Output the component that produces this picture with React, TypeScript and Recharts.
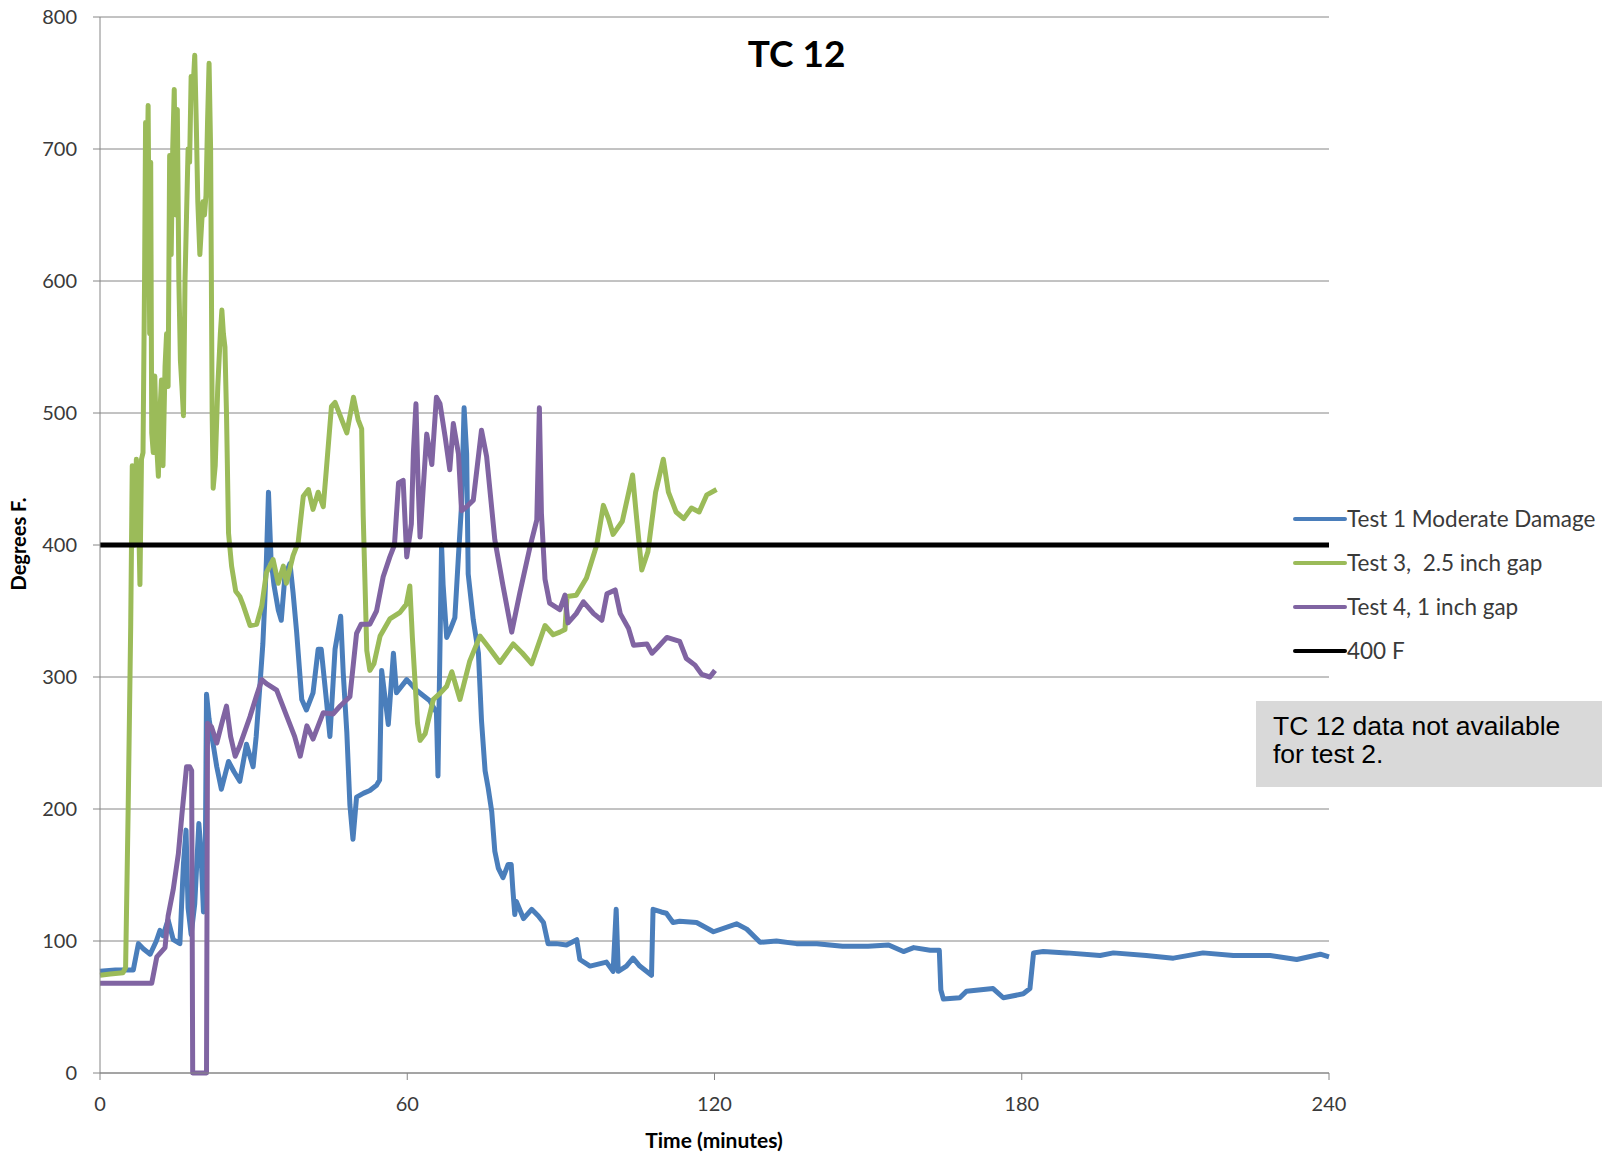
import React from 'react'
import { LineChart, Line, XAxis, YAxis, CartesianGrid } from 'recharts'

// minutes, degrees F
const test1: [number, number][] = [
  [0, 77], [3, 78], [6.5, 78], [7.5, 98], [8.5, 94], [9.8, 90], [11, 100], [11.7, 108], [12.3, 104],
  [13.3, 116], [14.3, 101], [15.6, 98], [16.3, 159], [16.8, 184], [17.2, 125], [17.8, 105], [18.5, 128],
  [19.3, 189], [19.7, 170], [20.2, 122], [20.5, 130], [20.8, 287], [21.3, 268], [22.1, 249], [22.8, 232],
  [23.7, 215], [25.1, 236], [26.2, 228], [27.3, 221], [28.6, 249], [29.9, 232], [30.5, 255], [31.2, 292],
  [31.8, 325], [32.2, 359], [32.5, 389], [32.9, 440], [33.4, 389], [34, 369], [34.8, 351], [35.4, 343],
  [36.1, 376], [37.1, 386], [37.7, 364], [38.4, 334], [39.4, 283], [40.3, 275], [41.6, 288], [42.6, 321],
  [43.2, 321], [44.2, 283], [44.9, 255], [45.9, 321], [47, 346], [47.5, 303], [48.2, 258], [48.8, 203],
  [49.4, 177], [50.1, 209], [51.5, 212], [52.7, 214], [54, 218], [54.6, 222], [55, 305], [56.3, 264],
  [57.3, 318], [57.9, 288], [59.9, 298], [61.8, 290], [64.4, 282], [65.7, 273], [66, 225], [66.7, 400],
  [67, 370], [67.7, 330], [68.3, 335], [69.3, 345], [70, 392], [70.6, 430], [71.1, 504], [71.6, 469],
  [71.9, 378], [72.9, 343], [73.9, 318], [74.5, 267], [75.2, 229], [75.8, 216], [76.5, 198], [76.8, 183],
  [77.1, 168], [77.8, 155], [78.7, 148], [79.7, 158], [80.3, 158], [80.6, 140], [81, 120], [81.3, 130],
  [82.7, 117], [84.3, 124], [85.6, 119], [86.6, 114], [87.5, 98], [89.1, 98], [91.1, 97], [93.1, 101],
  [93.7, 86], [95.7, 81], [98.9, 84], [100.2, 77], [100.5, 100], [100.8, 124], [101.2, 77], [102.8, 81],
  [104.1, 87], [105.4, 81], [107.7, 74], [108, 124], [109.6, 122], [110.6, 121], [111.9, 114], [113.2, 115],
  [116.5, 114], [119.8, 107], [124.3, 113], [126.3, 109], [128.9, 99], [132.1, 100], [136, 98], [140, 98],
  [145, 96], [150, 96], [154, 97], [156.9, 92], [158.9, 95], [162.1, 93], [163.9, 93], [164.2, 63],
  [164.7, 56], [167.9, 57], [169.2, 62], [174.4, 64], [176.4, 57], [180.3, 60], [181.6, 64], [182.3, 91],
  [184.2, 92], [188.8, 91], [195.3, 89], [197.9, 91], [204.3, 89], [209.6, 87], [215.4, 91], [221.3, 89],
  [228.5, 89], [233.7, 86], [238.3, 90], [240, 88],
]

const test3: [number, number][] = [
  [0, 74], [2, 75], [4.5, 76], [5, 80], [5.5, 200], [6, 340], [6.3, 460], [6.8, 400], [7.1, 465], [7.5, 430],
  [7.8, 370], [8.1, 465], [8.4, 470], [8.7, 600], [8.9, 720], [9.1, 650], [9.4, 733], [9.7, 560], [9.9, 690],
  [10.1, 485], [10.4, 470], [10.7, 528], [11, 480], [11.4, 452], [11.7, 500], [12, 525], [12.3, 460],
  [12.7, 535], [13, 560], [13.3, 520], [13.6, 695], [13.9, 620], [14.2, 700], [14.5, 745], [14.8, 650],
  [15.1, 730], [15.4, 600], [15.7, 540], [16, 520], [16.3, 498], [16.6, 600], [16.9, 650], [17.2, 700],
  [17.5, 690], [17.8, 755], [18.1, 740], [18.5, 771], [18.8, 720], [19.1, 660], [19.5, 620], [19.8, 640],
  [20.1, 660], [20.4, 650], [20.7, 665], [21, 720], [21.3, 765], [21.6, 700], [21.9, 500], [22.1, 443],
  [22.5, 460], [23, 520], [23.5, 560], [23.8, 578], [24.1, 560], [24.4, 550], [24.7, 500], [25.1, 409],
  [25.7, 384], [26.5, 365], [27.3, 361], [28, 354], [29.3, 339], [30.6, 340], [31.6, 354], [32.5, 379],
  [33.8, 389], [34.8, 371], [35.8, 384], [36.4, 371], [37.7, 392], [38.7, 402], [39.7, 437], [40.7, 442],
  [41.6, 427], [42.6, 440], [43.6, 429], [44.2, 457], [45.2, 505], [45.9, 508], [46.9, 498], [48.2, 485],
  [49.5, 512], [50.4, 495], [51.1, 488], [51.4, 422], [52.1, 320], [52.7, 305], [53.5, 310], [54.7, 331],
  [56.6, 344], [58.6, 349], [59.8, 355], [60.5, 369], [61, 330], [62, 265], [62.5, 252], [63.5, 257],
  [65.1, 283], [66.5, 288], [67.7, 293], [68.7, 304], [70.3, 283], [72.2, 312], [74.2, 331], [76, 322],
  [78.1, 311], [80.7, 325], [82.5, 318], [84.3, 310], [86.9, 339], [88.5, 332], [89.8, 334], [90.8, 336],
  [91.2, 361], [93, 362], [95, 375], [97, 400], [98.3, 430], [99.3, 420], [100.2, 408], [102, 418],
  [104, 453], [104.8, 420], [105.8, 381], [107, 395], [108.5, 440], [110, 465], [111, 440], [112.5, 425],
  [114, 420], [115.5, 428], [117, 425], [118.5, 438], [120.4, 442],
]

const test4: [number, number][] = [
  [0, 68], [5, 68], [10.1, 68], [11.1, 88], [12.7, 95], [13.3, 119], [14.3, 139], [15.3, 166], [16, 196],
  [16.9, 232], [17.5, 232], [17.9, 229], [18.1, 0], [20.8, 0], [21, 265], [21.8, 262], [22.8, 250],
  [23.8, 265], [24.7, 278], [25.5, 255], [26.4, 240], [27.3, 248], [29.3, 270], [30.5, 285], [31.6, 298],
  [32.5, 295], [34.5, 290], [35.5, 280], [36.5, 270], [38, 255], [39.1, 240], [40.4, 263], [41.6, 253],
  [43.6, 273], [45.5, 272], [46.9, 278], [48.8, 285], [50.1, 333], [51, 340], [52.7, 340], [54, 350],
  [55.3, 376], [56.6, 391], [57.5, 400], [58.3, 447], [59.2, 449], [59.9, 391], [60.8, 416], [61.2, 470],
  [61.7, 507], [62.1, 450], [62.5, 406], [63.8, 484], [64.8, 461], [65.7, 512], [66.4, 507], [67.4, 482],
  [68.3, 457], [69, 492], [70, 469], [70.6, 426], [71.6, 429], [72.9, 434], [74.5, 487], [75.5, 467],
  [77.1, 404], [78.7, 369], [80.4, 334], [82, 364], [84, 399], [85.3, 419], [85.8, 504], [86.2, 424],
  [86.9, 374], [87.8, 356], [89.8, 351], [90.8, 362], [91.4, 341], [93, 348], [94.4, 357], [96.4, 348],
  [98, 343], [99, 363], [100.6, 366], [101.6, 348], [103.2, 337], [104.2, 324], [106.8, 325], [107.8, 318],
  [108.8, 322], [110.7, 330], [113.2, 327], [114.5, 314], [116.2, 309], [117.5, 302], [119.1, 300],
  [120.1, 305],
]

const limit400: [number, number][] = [[0, 400], [240, 400]]

const xTicks = [0, 60, 120, 180, 240]
const yTicks = [0, 100, 200, 300, 400, 500, 600, 700, 800]

const series = [
  { name: 'Test 1 Moderate Damage', color: '#4a7ebb', points: test1, width: 5 },
  { name: 'Test 3,  2.5 inch gap', color: '#9bbb59', points: test3, width: 5 },
  { name: 'Test 4, 1 inch gap', color: '#8064a2', points: test4, width: 5 },
  { name: '400 F', color: '#000000', points: limit400, width: 5 },
]

const toRows = (pts: [number, number][]) => pts.map(([t, v]) => ({ t, v }))

export default function App() {
  return (
    <div style={{ position: 'absolute', left: 0, top: 0, width: 1613, height: 1156, background: '#fff', fontFamily: 'Lato' }}>
      <LineChart width={1613} height={1156} margin={{ top: 17, right: 284, bottom: 53, left: 40 }}>
        <CartesianGrid horizontal vertical={false} stroke="#868686" strokeWidth={1} />
        <XAxis
          dataKey="t"
          type="number"
          domain={[0, 240]}
          ticks={xTicks}
          allowDuplicatedCategory={false}
          stroke="#868686"
          tickSize={7}
          tickMargin={17}
          tick={{ fill: '#3a3a3a', fontSize: 20, fontFamily: 'Lato' }}
          height={30}
        />
        <YAxis
          type="number"
          domain={[0, 800]}
          ticks={yTicks}
          stroke="#868686"
          tickSize={7}
          tickMargin={16}
          width={60}
          tick={{ fill: '#3a3a3a', fontSize: 20, fontFamily: 'Lato' }}
        />
        {series.map((s) => (
          <Line
            key={s.name}
            data={toRows(s.points)}
            dataKey="v"
            type="linear"
            stroke={s.color}
            strokeWidth={s.width}
            strokeLinejoin="round"
            dot={false}
            activeDot={false}
            isAnimationActive={false}
          />
        ))}
      </LineChart>
      <svg width={1613} height={1156} style={{ position: 'absolute', left: 0, top: 0, pointerEvents: 'none' }}>
        <text x={796.5} y={67} textAnchor="middle" fontFamily="Lato" fontWeight="bold" fontSize={37} fill="#000">TC 12</text>
        <text transform="translate(26,544) rotate(-90)" textAnchor="middle" fontFamily="Lato" fontWeight="bold" fontSize={20} fill="#000">Degrees F.</text>
        <text x={714} y={1148} textAnchor="middle" fontFamily="Lato" fontWeight="bold" fontSize={21} fill="#000">Time (minutes)</text>
        {series.map((s, i) => (
          <g key={s.name}>
            <line x1={1295} x2={1345} y1={519 + i * 44} y2={519 + i * 44} stroke={s.color} strokeWidth={4} strokeLinecap="round" />
            <text x={1347} y={527 + i * 44} fontFamily="Lato" fontSize={22.5} fill="#3a3a3a">{s.name.replace(/ /g, '\u00a0')}</text>
          </g>
        ))}
        <rect x={1256} y={701} width={346} height={86} fill="#d9d9d9" />
        <text x={1273} y={735} fontFamily="Liberation Sans" fontSize={26.5} fill="#000">TC 12 data not available</text>
        <text x={1273} y={763} fontFamily="Liberation Sans" fontSize={26.5} fill="#000">for test 2.</text>
      </svg>
    </div>
  )
}
